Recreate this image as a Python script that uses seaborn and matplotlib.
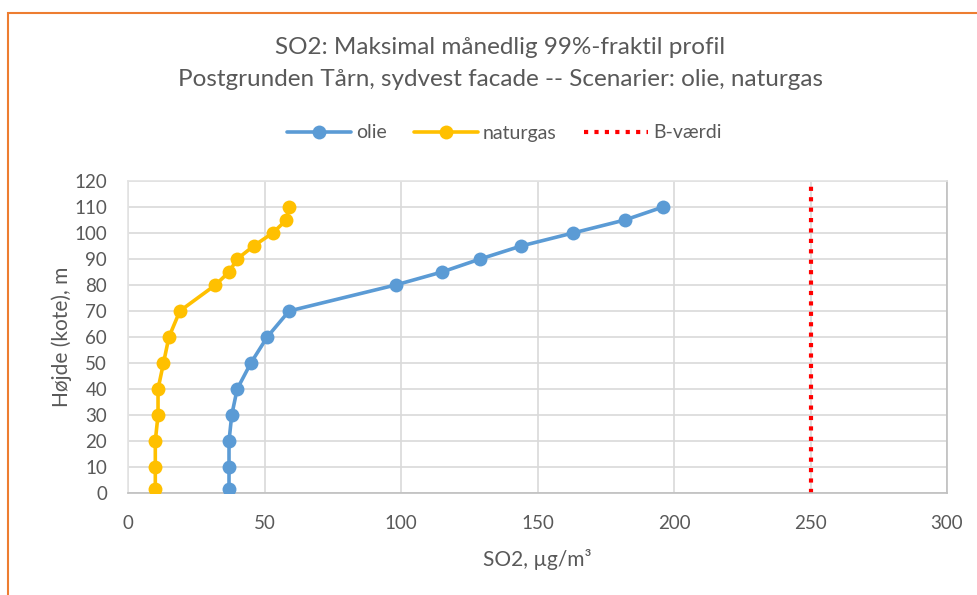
import matplotlib
matplotlib.use("Agg")
import matplotlib.pyplot as plt
from matplotlib.patches import Rectangle
from matplotlib.lines import Line2D
import seaborn as sns
import pandas as pd

# Heights (m) and monthly 99% percentile SO2 concentrations per scenario
hoejde = [1.5, 10, 20, 30, 40, 50, 60, 70, 80, 85, 90, 95, 100, 105, 110]
olie = [37, 37, 37, 38, 40, 45, 51, 59, 98, 115, 129, 144, 163, 182, 196]
naturgas = [10, 10, 10, 11, 11, 13, 15, 19, 32, 37, 40, 46, 53, 58, 59]
b_vaerdi_x = [250, 250]
b_vaerdi_y = [0, 120]

x_ticks = [0, 50, 100, 150, 200, 250, 300]
y_ticks = list(range(0, 121, 10))

sns.set_theme(style="white")
plt.rcParams["font.family"] = ["Lato", "DejaVu Sans"]

txt = "#595959"
blue = "#5B9BD5"
gold = "#FFC000"
red = "#FF0000"
grid = "#D9D9D9"

fig = plt.figure(figsize=(9.77, 5.95), dpi=100)
ax = fig.add_axes([128 / 977, 1 - 493 / 595, (947 - 128) / 977, (493 - 181) / 595])

df_olie = pd.DataFrame({"SO2": olie, "h": hoejde})
df_gas = pd.DataFrame({"SO2": naturgas, "h": hoejde})
df_b = pd.DataFrame({"SO2": b_vaerdi_x, "h": b_vaerdi_y})

style = dict(marker="o", markersize=10, markeredgewidth=0, linewidth=2.6,
             sort=False, estimator=None, ax=ax, legend=False)
sns.lineplot(data=df_olie, x="SO2", y="h", color=blue, zorder=3, **style)
sns.lineplot(data=df_gas, x="SO2", y="h", color=gold, zorder=3, **style)
sns.lineplot(data=df_b, x="SO2", y="h", color=red, linewidth=3,
             linestyle=(0, (1, 1.5)), sort=False, estimator=None, ax=ax,
             legend=False, zorder=2)
ax.lines[-1].set_dash_capstyle("butt")

ax.set_xlim(0, 300)
ax.set_ylim(0, 120)
ax.set_xticks(x_ticks)
ax.set_yticks(y_ticks)
ax.grid(True, color=grid, linewidth=1.2)
ax.set_axisbelow(True)
for side in ["top", "left"]:
    ax.spines[side].set_color("#E3E3E3")
for side in ["right", "bottom"]:
    ax.spines[side].set_color("#BFBFBF")
for sp in ax.spines.values():
    sp.set_linewidth(1.2)
ax.tick_params(axis="both", colors=txt, labelsize=13.5, length=0)
ax.tick_params(axis="x", pad=16)
ax.tick_params(axis="y", pad=15)
ax.set_xlabel("SO2, µg/m³", color=txt, fontsize=15, labelpad=12)
ax.set_ylabel("Højde (kote), m", color=txt, fontsize=15, labelpad=2)

fig.text(0.512, 1 - 47 / 595, "SO2: Maksimal månedlig 99%-fraktil profil",
         ha="center", va="center", color=txt, fontsize=17.5)
fig.text(0.512, 1 - 80 / 595,
         "Postgrunden Tårn, sydvest facade -- Scenarier: olie, naturgas",
         ha="center", va="center", color=txt, fontsize=17.5)

handles = [
    Line2D([], [], color=blue, marker="o", markersize=10, markeredgewidth=0, linewidth=2.6),
    Line2D([], [], color=gold, marker="o", markersize=10, markeredgewidth=0, linewidth=2.6),
    Line2D([], [], color=red, linewidth=3, linestyle=(0, (1, 1.5)), dash_capstyle="butt"),
]
fig.legend(handles, ["olie", "naturgas", "B-værdi"], loc="center",
           bbox_to_anchor=(0.516, 1 - 133 / 595), ncol=3, frameon=False,
           fontsize=14, labelcolor=txt, handlelength=3.3, handletextpad=0.25,
           columnspacing=1.4)

# chart frame
fig.patches.append(Rectangle((8 / 977, -0.1), 1.2, 1 - 13 / 595 + 0.1,
                             transform=fig.transFigure, fill=False,
                             edgecolor="#ED7D31", linewidth=1.5))

fig.savefig("out.png", dpi=100)
